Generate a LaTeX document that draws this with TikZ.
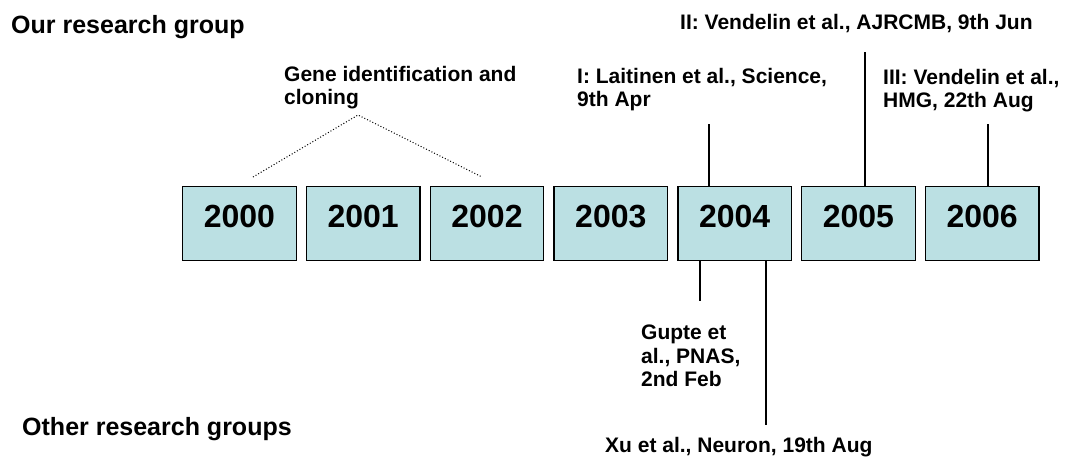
\documentclass[tikz,border=0pt]{standalone}
\usepackage{fontspec}
\setmainfont{Liberation Sans}
\usepackage{xcolor}
\usetikzlibrary{positioning}
\colorlet{yearfill}{rgb,255:red,187;green,224;blue,227}
\tikzstyle{label}=[inner sep=0,font=\bfseries\fontsize{21}{23.5}\selectfont,align=left]

\begin{document}
\begin{tikzpicture}[
    x=1pt,y=-1pt,
    yearbox/.style={draw=black,line width=1.3,fill=yearfill,inner sep=0,
                    minimum width=\W,text height=41,text depth=33,
                    font=\bfseries\fontsize{32}{36}\selectfont},
    group/.style={inner sep=0,font=\bfseries\fontsize{25}{28}\selectfont,anchor=base west},
    tick/.style={black,line width=1.2},
    span/.style={black,line width=1,dash pattern=on 1pt off 2pt}
  ]
  
  \def\W{113.5} % box width
  \def\g{9}     % gap between boxes
  
  \useasboundingbox (0,0) rectangle (1070,456);
  
  % GROUPS
  \node[group] (our)   at (11,33)  {Our research group};
  \node[group] (other) at (22,435) {Other research groups};
  
  % YEARS
  \node[yearbox,anchor=north west] (y2000) at (182,186) {2000};
  \foreach \yr [remember=\yr as \prev (initially 2000)] in {2001,...,2006}{
    \node[yearbox,right=\g of y\prev] (y\yr) {\yr};
  }
  
  % PAPERS
  \node[label,anchor=north west] (gene)  at (284,66)  {Gene identification and\\cloning};
  \node[label,anchor=north west] (pI)    at (577,68)  {I: Laitinen et al., Science,\\9th Apr};
  \node[label,anchor=base west]  (pII)   at (680,29)  {II: Vendelin et al., AJRCMB, 9th Jun};
  \node[label,anchor=north west] (pIII)  at (883,69)  {III: Vendelin et al.,\\HMG, 22th Aug};
  \node[label,anchor=north west] (gupte) at (641,325) {Gupte et\\al., PNAS,\\2nd Feb};
  \node[label,anchor=base west]  (xu)    at (605,452) {Xu et al., Neuron, 19th Aug};
  
  % CONNECTORS
  \coordinate (gL) at (253,177);
  \coordinate (gT) at (358,115);
  \coordinate (gR) at (482,177);
  \draw[span] (gL) -- (gT) -- (gR);
  
  \coordinate (tI)   at (709,124);
  \coordinate (tII)  at (865,52);
  \coordinate (tIII) at (988,124);
  \coordinate (tG)   at (700,301);
  \coordinate (tX)   at (766,425);
  \draw[tick] (tI)   -- (tI |- y2004.north);
  \draw[tick] (tII)  -- (tII |- y2005.north);
  \draw[tick] (tIII) -- (tIII |- y2006.north);
  \draw[tick] (y2004.south -| tG) -- (tG);
  \draw[tick] (y2004.south -| tX) -- (tX);
  
\end{tikzpicture}
\end{document}
